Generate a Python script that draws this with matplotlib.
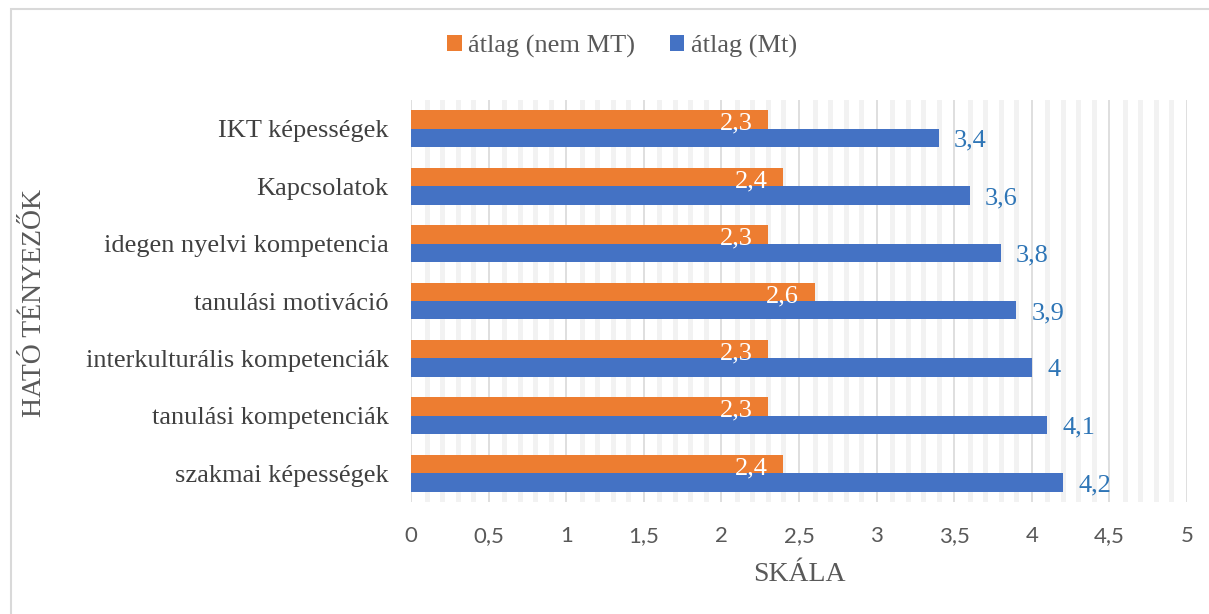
import matplotlib

matplotlib.use("Agg")
import matplotlib.pyplot as plt
import numpy as np
from matplotlib.patches import Rectangle
from matplotlib.ticker import MultipleLocator, FuncFormatter

categories = [
    "szakmai képességek",
    "tanulási kompetenciák",
    "interkulturális kompetenciák",
    "tanulási motiváció",
    "idegen nyelvi kompetencia",
    "Kapcsolatok",
    "IKT képességek",
]
atlag_nem_mt = [2.4, 2.3, 2.3, 2.6, 2.3, 2.4, 2.3]
atlag_mt = [4.2, 4.1, 4.0, 3.9, 3.8, 3.6, 3.4]

ORANGE = "#ED7D31"
BLUE = "#4472C4"
TEXT = "#595959"
SERIF = "Liberation Serif"
SANS = "Lato"


def _num(v: float) -> str:
    s = f"{v:.1f}".rstrip("0").rstrip(".")
    return s.replace(".", ",")


fig = plt.figure(figsize=(12.09, 6.14), dpi=100)
fig.patch.set_facecolor("white")
fig.patches.append(Rectangle((11 / 1209, -0.01), 1.0, 1 - 9 / 614 + 0.01, transform=fig.transFigure,
                             fill=False, edgecolor="#D9D9D9", linewidth=1.5))

ax = fig.add_axes([411 / 1209, 1 - 502 / 614, 776 / 1209, 402 / 614])
y = np.arange(len(categories))
h = 0.32
ax.barh(y - h / 2, atlag_mt, height=h, color=BLUE, label="átlag (Mt)", zorder=3)
ax.barh(y + h / 2, atlag_nem_mt, height=h, color=ORANGE, label="átlag (nem MT)", zorder=3)

for yi, v in zip(y, atlag_nem_mt):
    ax.annotate(_num(v), (v, yi + h / 2), xytext=(-11, -3), textcoords="offset points",
                ha="right", va="center", color="white", fontsize=19, family=SERIF, zorder=4)
for yi, v in zip(y, atlag_mt):
    ax.annotate(_num(v), (v, yi - h / 2), xytext=(11, -2), textcoords="offset points",
                ha="left", va="center", color="#2E75B6", fontsize=19, family=SERIF, zorder=4)

ax.set_xlim(0, 5)
ax.set_ylim(-0.5, len(categories) - 0.5)
ax.xaxis.set_major_locator(MultipleLocator(0.5))
ax.xaxis.set_minor_locator(MultipleLocator(0.1))
ax.xaxis.set_major_formatter(FuncFormatter(lambda v, _: _num(v)))
ax.grid(axis="x", which="major", color="#D9D9D9", linewidth=1.2, zorder=1)
ax.grid(axis="x", which="minor", color="#F2F2F2", linewidth=3.5, zorder=0)
ax.tick_params(axis="x", which="both", length=0, pad=17, labelsize=16, labelcolor=TEXT)
ax.tick_params(axis="y", length=0, pad=16)
for lbl in ax.get_xticklabels():
    lbl.set_family(SANS)
ax.set_yticks(y)
ax.set_yticklabels(categories, family=SERIF, fontsize=19, color="#404040")
for s in ax.spines.values():
    s.set_visible(False)

ax.set_xlabel("SKÁLA", family=SERIF, fontsize=20, color=TEXT, labelpad=12)
fig.text(35 / 1209, 1 - 303 / 614, "HATÓ TÉNYEZŐK", rotation=90, ha="center", va="center",
         family=SERIF, fontsize=20, color=TEXT)

handles, labels = ax.get_legend_handles_labels()
fig.legend(handles[::-1], labels[::-1], loc="center", bbox_to_anchor=(622 / 1209, 1 - 46 / 614), ncol=2,
           frameon=False, prop={"family": SERIF, "size": 19}, labelcolor=TEXT,
           handlelength=0.55, handleheight=0.55, handletextpad=0.25, columnspacing=1.3)

fig.savefig("out.png", dpi=100)
